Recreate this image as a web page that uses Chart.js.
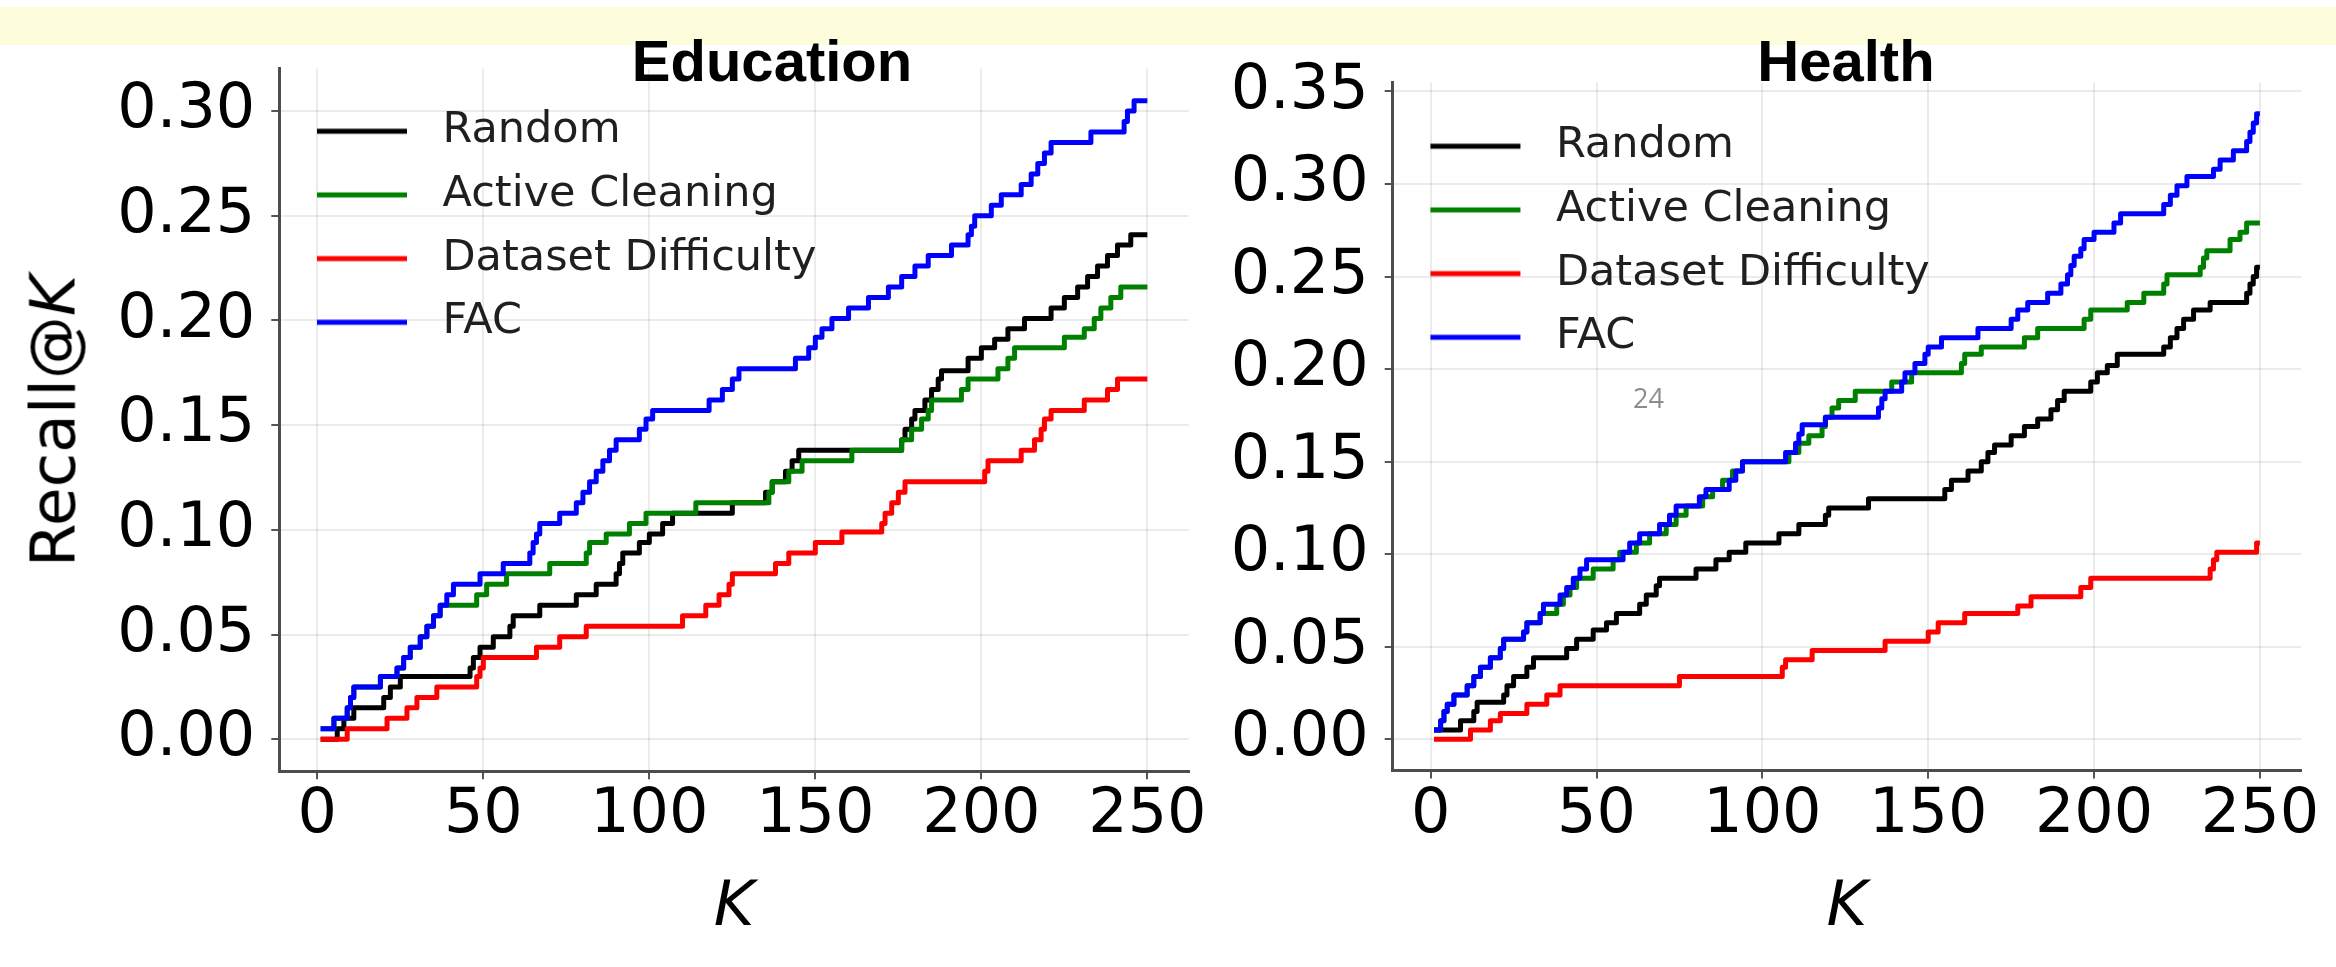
<!DOCTYPE html>
<html>
<head>
<meta charset="utf-8">
<script src="https://cdn.jsdelivr.net/npm/chart.js@4.4.1/dist/chart.umd.min.js"></script>
<style>
  html, body { margin: 0; padding: 0; background: #fff; }
  body { width: 2336px; height: 967px; position: relative; overflow: hidden; font-family: 'DejaVu Sans', sans-serif; }
  .band { position: absolute; left: 0; top: 7px; width: 2336px; height: 38px; background: #fdfddc; }
  canvas { position: absolute; top: 0; }
  #cv-edu { left: 0; }
  #cv-health { left: 1215px; }
  .panel-title { position: absolute; top: 32px; width: 600px; text-align: center; color: #000;
    font: bold 58px/58px 'Liberation Sans', Arial, sans-serif; }
  .ylabel { position: absolute; left: 53px; top: 421px; transform: translate(-50%, -50%) rotate(-90deg);
    white-space: nowrap; font: 63px/63px 'DejaVu Sans', sans-serif; color: #000; }
  .page-num { position: absolute; left: 1633px; top: 384px; font: 27px/27px 'Open Sans', sans-serif; color: #8c8c8c; z-index: 5; }
</style>
</head>
<body>
<div class="band"></div>
<canvas id="cv-edu" width="1215" height="967"></canvas>
<canvas id="cv-health" width="1121" height="967"></canvas>
<div class="panel-title" style="left:472px">Education</div>
<div class="panel-title" style="left:1546px">Health</div>
<div class="ylabel">Recall@<i>K</i></div>
<div class="page-num">24</div>

<script>
/* recall@K curves, [K, recall] at each step change */

const SERIES_NAMES = ['Random', 'Active Cleaning', 'Dataset Difficulty', 'FAC'];
const SERIES_COLORS = ['#000000', '#008000', '#ff0000', '#0000ff'];

const K_TICKS = [0, 50, 100, 150, 200, 250];
const EDU_Y_TICKS = [0, 0.05, 0.10, 0.15, 0.20, 0.25, 0.30];
const HEALTH_Y_TICKS = [0, 0.05, 0.10, 0.15, 0.20, 0.25, 0.30, 0.35];

// Education
const eduRandom = [[1,0],[6,0.005],[8,0.010],[11,0.015],[20,0.020],[22,0.025],[25,0.030],[46,0.034],[47,0.039],[49,0.044],
  [53,0.049],[58,0.054],[59,0.059],[67,0.064],[78,0.069],[84,0.074],[90,0.079],[91,0.084],[92,0.089],[97,0.094],
  [100,0.098],[104,0.103],[107,0.108],[125,0.113],[135,0.118],[137,0.123],[141,0.128],[143,0.133],[145,0.138],[176,0.143],
  [177,0.148],[179,0.153],[180,0.157],[183,0.162],[185,0.167],[187,0.172],[188,0.176],[196,0.182],[200,0.187],[204,0.191],
  [208,0.196],[213,0.201],[221,0.206],[225,0.211],[229,0.216],[232,0.221],[235,0.226],[238,0.231],[241,0.236],[245,0.241],[250,0.241]];
const eduActive = [[1,0.005],[5,0.010],[9,0.015],[10,0.020],[11,0.025],[19,0.030],[24,0.034],[26,0.039],[28,0.044],[31,0.049],
  [33,0.054],[35,0.059],[37,0.064],[48,0.069],[51,0.074],[57,0.079],[70,0.084],[81,0.089],[82,0.094],[87,0.098],
  [94,0.103],[99,0.108],[114,0.113],[136,0.118],[137,0.123],[142,0.128],[146,0.133],[161,0.138],[176,0.143],[179,0.148],
  [182,0.153],[184,0.157],[185,0.162],[194,0.167],[196,0.172],[205,0.177],[208,0.182],[210,0.187],[225,0.192],[231,0.196],
  [234,0.201],[236,0.206],[239,0.211],[242,0.216],[250,0.216]];
const eduDifficulty = [[1,0],[9,0.005],[21,0.010],[27,0.015],[30,0.020],[36,0.025],[48,0.030],[49,0.034],[50,0.039],[66,0.044],
  [73,0.049],[81,0.054],[110,0.059],[117,0.064],[121,0.069],[124,0.074],[125,0.079],[138,0.084],[142,0.089],[150,0.094],
  [158,0.099],[170,0.103],[171,0.108],[173,0.113],[175,0.118],[177,0.123],[201,0.128],[202,0.133],[212,0.138],[216,0.143],
  [218,0.148],[219,0.153],[221,0.157],[231,0.162],[238,0.167],[241,0.172],[250,0.172]];
const eduFAC = [[1,0.005],[5,0.010],[9,0.015],[10,0.020],[11,0.025],[19,0.030],[24,0.034],[26,0.039],[28,0.044],[31,0.049],
  [33,0.054],[35,0.059],[37,0.064],[39,0.069],[41,0.074],[49,0.079],[56,0.084],[64,0.089],[65,0.094],[66,0.098],
  [67,0.103],[73,0.108],[78,0.113],[80,0.118],[82,0.123],[84,0.128],[86,0.133],[88,0.138],[90,0.143],[97,0.148],
  [99,0.153],[101,0.157],[118,0.162],[122,0.167],[125,0.172],[127,0.177],[144,0.182],[148,0.187],[150,0.192],[152,0.196],
  [155,0.201],[160,0.206],[166,0.211],[172,0.216],[176,0.221],[180,0.226],[184,0.231],[191,0.236],[196,0.241],[197,0.245],
  [198,0.250],[203,0.255],[206,0.260],[212,0.265],[215,0.270],[217,0.275],[219,0.280],[221,0.285],[233,0.290],[243,0.295],
  [244,0.300],[246,0.305],[250,0.305]];

// Health
const healthRandom = [[1,0.005],[9,0.010],[13,0.015],[14,0.020],[22,0.024],[23,0.029],[25,0.034],[29,0.039],[31,0.044],[41,0.049],
  [44,0.054],[49,0.059],[53,0.063],[56,0.068],[63,0.073],[65,0.078],[68,0.083],[69,0.087],[80,0.092],[86,0.097],
  [90,0.101],[95,0.106],[105,0.111],[111,0.116],[119,0.121],[120,0.125],[132,0.130],[155,0.135],[157,0.140],[162,0.145],
  [166,0.150],[168,0.155],[170,0.159],[175,0.164],[179,0.169],[183,0.173],[187,0.178],[189,0.183],[191,0.188],[199,0.193],
  [201,0.198],[204,0.202],[207,0.208],[221,0.212],[223,0.217],[225,0.222],[227,0.227],[230,0.232],[235,0.236],[246,0.241],
  [247,0.246],[248,0.250],[249,0.255],[250,0.255]];
const healthActive = [[1,0.005],[3,0.010],[4,0.015],[5,0.019],[7,0.024],[11,0.029],[13,0.034],[15,0.039],[18,0.044],[21,0.049],
  [22,0.054],[28,0.058],[29,0.063],[33,0.068],[38,0.073],[40,0.078],[42,0.082],[44,0.087],[49,0.092],[55,0.097],
  [57,0.101],[62,0.106],[66,0.111],[71,0.116],[74,0.121],[77,0.126],[82,0.131],[85,0.135],[88,0.140],[91,0.145],
  [94,0.150],[108,0.155],[111,0.160],[114,0.164],[118,0.169],[119,0.174],[121,0.179],[123,0.183],[128,0.188],[139,0.193],
  [145,0.198],[160,0.203],[161,0.208],[166,0.212],[179,0.217],[183,0.222],[197,0.227],[199,0.232],[210,0.236],[215,0.241],
  [221,0.246],[222,0.251],[232,0.255],[233,0.260],[234,0.264],[241,0.270],[244,0.274],[246,0.279],[250,0.279]];
const healthDifficulty = [[1,0],[12,0.005],[18,0.010],[21,0.014],[29,0.019],[35,0.024],[39,0.029],[75,0.034],[106,0.039],[107,0.043],
  [115,0.048],[137,0.053],[150,0.058],[153,0.063],[161,0.068],[177,0.072],[181,0.077],[196,0.082],[199,0.087],[235,0.092],
  [236,0.097],[237,0.101],[249,0.106],[250,0.106]];
const healthFAC = [[1,0.005],[3,0.010],[4,0.015],[5,0.019],[7,0.024],[11,0.029],[13,0.034],[15,0.039],[18,0.044],[21,0.049],
  [22,0.054],[28,0.058],[29,0.063],[33,0.068],[34,0.073],[39,0.078],[41,0.082],[43,0.087],[45,0.092],[47,0.097],
  [58,0.101],[60,0.106],[63,0.111],[69,0.116],[72,0.121],[74,0.126],[81,0.131],[83,0.135],[90,0.140],[92,0.145],
  [94,0.150],[107,0.155],[110,0.160],[111,0.165],[112,0.170],[119,0.174],[135,0.179],[136,0.184],[137,0.188],[142,0.193],
  [143,0.198],[146,0.203],[149,0.208],[150,0.212],[154,0.217],[165,0.222],[175,0.227],[177,0.232],[180,0.236],[186,0.241],
  [190,0.246],[192,0.251],[193,0.256],[194,0.261],[196,0.265],[197,0.270],[200,0.274],[206,0.279],[208,0.284],[221,0.289],
  [223,0.294],[225,0.299],[228,0.304],[236,0.308],[238,0.313],[242,0.318],[246,0.323],[247,0.328],[248,0.333],[249,0.338],[250,0.338]];

const toXY = pts => pts.map(([x, y]) => ({ x, y }));

// legend handle: a short line with room on both sides, used as a point style image
function legendSwatch(color) {
  const c = document.createElement('canvas');
  c.width = 121; c.height = 10;
  const g = c.getContext('2d');
  g.strokeStyle = color;
  g.lineWidth = 5;
  g.beginPath(); g.moveTo(17, 5); g.lineTo(107, 5); g.stroke();
  return c;
}

function makePanel(id, series, yTicks, yMin, yMax, box) {
  return new Chart(document.getElementById(id), {
    type: 'line',
    data: {
      datasets: series.map((pts, i) => ({
        label: SERIES_NAMES[i],
        data: toXY(pts),
        borderColor: SERIES_COLORS[i],
        backgroundColor: SERIES_COLORS[i],
        borderWidth: 5,
        borderJoinStyle: 'round',
        pointRadius: 0,
        stepped: true,
        fill: false,
        order: series.length - i,
      })),
    },
    options: {
      responsive: false,
      animation: false,
      devicePixelRatio: 1,
      layout: { padding: { left: 0, right: box.padRight, top: box.padTop, bottom: 0 } },
      plugins: {
        tooltip: { enabled: false },
        legend: {
          position: 'chartArea',
          align: 'start',
          // empty title only pushes the entries down from the canvas top
          title: { display: true, text: '', padding: 0, font: { size: box.legendOffset, lineHeight: 1 } },
          labels: {
            usePointStyle: true,
            pointStyleWidth: 121,
            boxHeight: 10,
            padding: 20.7,
            color: '#1f1f1f',
            font: { family: 'DejaVu Sans', size: 43 },
            generateLabels: chart => chart.data.datasets.map((ds, i) => ({
              text: ds.label, fillStyle: ds.borderColor, strokeStyle: ds.borderColor, fontColor: '#1f1f1f',
              lineWidth: 0, pointStyle: legendSwatch(ds.borderColor), hidden: false, datasetIndex: i,
            })),
          },
        },
      },
      scales: {
        x: {
          type: 'linear', min: -11.45, max: 262.45, bounds: 'data',
          afterBuildTicks: s => { s.ticks = K_TICKS.map(v => ({ value: v })); },
          afterFit: s => { s.height = box.xAxisHeight; },
          ticks: { color: '#000', padding: 6, autoSkip: false, maxRotation: 0,
            font: { family: 'DejaVu Sans', size: 62, lineHeight: 1 }, callback: v => String(v) },
          grid: { color: 'rgba(0,0,0,0.08)', lineWidth: 2, tickColor: '#555', tickLength: 8, tickWidth: 2 },
          border: { color: '#4d4d4d', width: 3 },
          title: { display: true, text: 'K', color: '#000', padding: { top: 0, bottom: 27 },
            font: { family: 'DejaVu Sans', size: 62, style: 'italic', lineHeight: 1 } },
        },
        y: {
          type: 'linear', min: yMin, max: yMax, bounds: 'data',
          afterBuildTicks: s => { s.ticks = yTicks.map(v => ({ value: v })); },
          afterFit: s => { s.width = box.yAxisWidth; },
          ticks: { color: '#000', padding: 16, autoSkip: false,
            font: { family: 'DejaVu Sans', size: 62, lineHeight: 1 }, callback: v => v.toFixed(2) },
          grid: { color: 'rgba(0,0,0,0.08)', lineWidth: 2, tickColor: '#555', tickLength: 8, tickWidth: 2 },
          border: { color: '#4d4d4d', width: 3 },
        },
      },
    },
  });
}

makePanel('cv-edu', [eduRandom, eduActive, eduDifficulty, eduFAC], EDU_Y_TICKS, -0.01525, 0.32025,
  { yAxisWidth: 279.3, padRight: 26.3, padTop: 68.7, xAxisHeight: 195.8, legendOffset: 89 });
makePanel('cv-health', [healthRandom, healthActive, healthDifficulty, healthFAC], HEALTH_Y_TICKS, -0.0169, 0.3549,
  { yAxisWidth: 177.7, padRight: 34.8, padTop: 82.4, xAxisHeight: 196.4, legendOffset: 104 });
</script>
</body>
</html>
